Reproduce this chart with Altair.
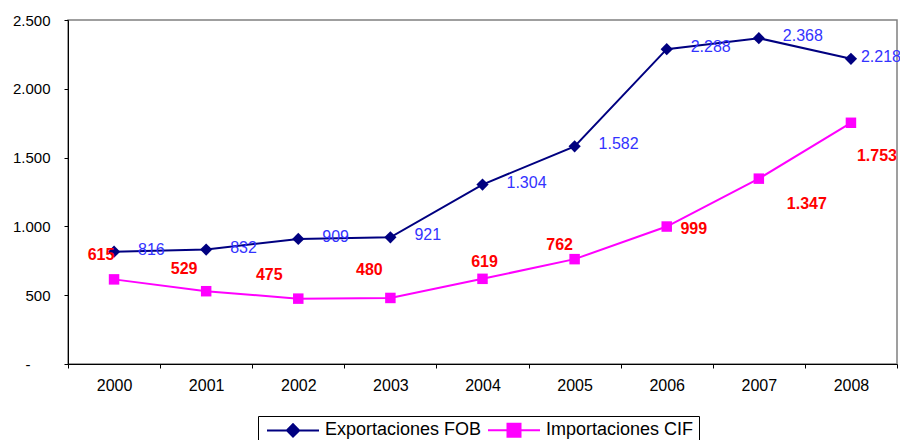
import altair as alt
import pandas as pd

years = ["2000", "2001", "2002", "2003", "2004", "2005", "2006", "2007", "2008"]
exportaciones = [816, 832, 909, 921, 1304, 1582, 2288, 2368, 2218]
importaciones = [615, 529, 475, 480, 619, 762, 999, 1347, 1753]
series_names = ["Exportaciones FOB", "Importaciones CIF"]
y_ticks = [0, 500, 1000, 1500, 2000, 2500]

# label nudges (pixels), as placed in the original
exp_label_dx = [24, 24, 24, 24, 24, 24, 24, 24, 10]
imp_label_dx = [-13, -22, -29, -21, 2, -15, 27, 48, 26]
imp_label_dy = [-24, -22, -24, -28, -17, -14, 2, 25, 33]

NAVY = "#000080"
MAGENTA = "#FF00FF"
FONT = "Liberation Sans"

exp_df = pd.DataFrame({"year": years, "value": exportaciones})
imp_df = pd.DataFrame({"year": years, "value": importaciones})
legend_df = pd.DataFrame({"serie": series_names})

label_expr = "replace(format(datum.value, ','), ',', '.')"

x_enc = alt.X(
    "year:N",
    sort=years,
    scale=alt.Scale(type="band", paddingInner=0, paddingOuter=0),
    axis=alt.Axis(
        title=None, labelAngle=0, tickBand="extent", tickSize=4, labelPadding=9,
        labelFontSize=16, labelFont=FONT, labelColor="black",
        domainColor="black", tickColor="black", grid=False,
    ),
)
y_enc = alt.Y(
    "value:Q",
    scale=alt.Scale(domain=[0, 2500], nice=False),
    axis=alt.Axis(
        title=None, values=y_ticks, tickSize=4, grid=False,
        labelPadding={"condition": {"test": "datum.value == 0", "value": 34}, "value": 14},
        labelFontSize=15, labelFont=FONT, labelColor="black",
        domainColor="black", tickColor="black",
        labelExpr="datum.value == 0 ? '-' : " + label_expr,
    ),
)

exp_base = alt.Chart(exp_df).transform_calculate(label=label_expr)
imp_base = alt.Chart(imp_df).transform_calculate(label=label_expr)

exp_line = exp_base.mark_line(color=NAVY, strokeWidth=2).encode(x=x_enc, y=y_enc)
imp_line = imp_base.mark_line(color=MAGENTA, strokeWidth=2).encode(x=x_enc, y=y_enc)
exp_pts = exp_base.mark_point(shape="diamond", filled=True, size=150, color=NAVY, opacity=1).encode(x=x_enc, y=y_enc)
imp_pts = imp_base.mark_point(shape="square", filled=True, size=110, color=MAGENTA, opacity=1).encode(x=x_enc, y=y_enc)

texts = []
for i, yr in enumerate(years):
    texts.append(
        exp_base.transform_filter(alt.datum.year == yr).mark_text(
            align="left", baseline="middle", dx=exp_label_dx[i], dy=-2,
            fontSize=16, font=FONT, color="#3333FF",
        ).encode(x=x_enc, y=y_enc, text="label:N")
    )
for i, yr in enumerate(years):
    texts.append(
        imp_base.transform_filter(alt.datum.year == yr).mark_text(
            align="center", baseline="middle", dx=imp_label_dx[i], dy=imp_label_dy[i],
            fontSize=16, fontWeight="bold", font=FONT, color="#FF0000",
        ).encode(x=x_enc, y=y_enc, text="label:N")
    )

legend_paths = [
    "M-4,0H-0.95L0,-0.95L0.95,0L0,0.95L-0.95,0M0.95,0H4",
    "M-4,0H-1M-1,-1H1V1H-1ZM1,0H4",
]
leg = alt.Legend(title=None)
legend_layer = alt.Chart(legend_df).mark_point(filled=True, size=0, strokeWidth=2, opacity=1).encode(
    fill=alt.Fill("serie:N", scale=alt.Scale(domain=series_names, range=[NAVY, MAGENTA]), legend=leg),
    stroke=alt.Stroke("serie:N", scale=alt.Scale(domain=series_names, range=[NAVY, MAGENTA]), legend=leg),
    shape=alt.Shape("serie:N", scale=alt.Scale(domain=series_names, range=legend_paths), legend=leg),
)

chart = alt.layer(
    exp_line, imp_line, exp_pts, imp_pts, *texts, legend_layer
).properties(
    width=829,
    height=344,
    padding={"left": 60, "top": 12, "right": 3, "bottom": 76},
    autosize=alt.AutoSizeParams(type="none"),
).configure_view(
    stroke="#808080", strokeWidth=1.5
).configure_legend(
    orient="none", legendX=190, legendY=396, direction="horizontal",
    strokeColor="black", fillColor="white", padding=5, cornerRadius=0,
    symbolSize=169, symbolStrokeWidth=2, symbolOffset=21, symbolOpacity=1,
    labelOffset=23, labelFontSize=18, labelFont=FONT, labelColor="black",
    columnPadding=2,
)

chart.save("out.html", embed_options={"renderer": "svg", "actions": False})
